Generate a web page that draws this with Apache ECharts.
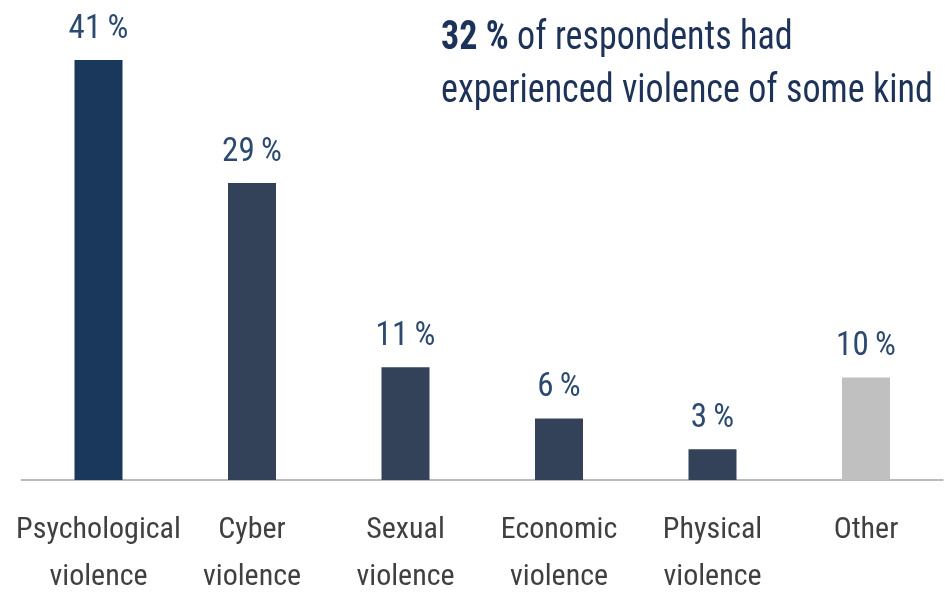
<!DOCTYPE html>
<html>
<head>
<meta charset="utf-8">
<script src="https://cdn.jsdelivr.net/npm/echarts@6/dist/echarts.min.js"></script>
<style>
html, body { margin: 0; padding: 0; background: #fff; }
#main { width: 945px; height: 605px; }
</style>
</head>
<body>
<div id="main"></div>
<script>
var categories = ['Psychological\nviolence', 'Cyber\nviolence', 'Sexual\nviolence', 'Economic\nviolence', 'Physical\nviolence', 'Other'];
var values = [41, 29, 11, 6, 3, 10];
var barColors = ['#1a375c', '#334259', '#334259', '#334259', '#334259', '#c0c0c0'];
var totalShare = '32 %';

var font = '"Roboto Condensed", "Open Sans Condensed", "Noto Sans Condensed", "Liberation Sans Narrow", "DejaVu Sans Condensed", sans-serif';

option = {
    graphic: [
        {
            // headline, squeezed a bit to mimic the condensed face
            type: 'text',
            x: 441,
            y: 12,
            scaleX: 0.88,
            style: {
                text: '{b|' + totalShare + '} of respondents had\nexperienced violence of some kind',
                font: '41px ' + font,
                fill: '#1c3258',
                lineHeight: 53,
                rich: {
                    b: { fontFamily: font, fontSize: 41, fontWeight: 'bold', fill: '#1c3258', lineHeight: 53 }
                }
            }
        }
    ],
    grid: { left: 21.75, right: 2.25, top: 60, bottom: 125 },
    xAxis: {
        type: 'category',
        data: categories,
        axisLine: { lineStyle: { color: '#b8bcc0', width: 2 } },
        axisTick: { show: false },
        axisLabel: {
            interval: 0,
            margin: 27,
            fontFamily: font,
            fontSize: 30,
            lineHeight: 47,
            color: '#404040'
        }
    },
    yAxis: {
        type: 'value',
        min: 0,
        max: 41,
        show: false,
        splitLine: { show: false }
    },
    series: [
        {
            type: 'bar',
            barWidth: 48,
            data: values.map(function (v, i) {
                return { value: v, itemStyle: { color: barColors[i] } };
            }),
            label: {
                show: true,
                position: 'top',
                distance: 14,
                formatter: '{c}\u2009%',
                fontFamily: font,
                fontSize: 33,
                color: '#2c4a70'
            }
        }
    ]
};

var myChart = echarts.init(document.getElementById('main'));
myChart.setOption(option);
</script>
</body>
</html>
